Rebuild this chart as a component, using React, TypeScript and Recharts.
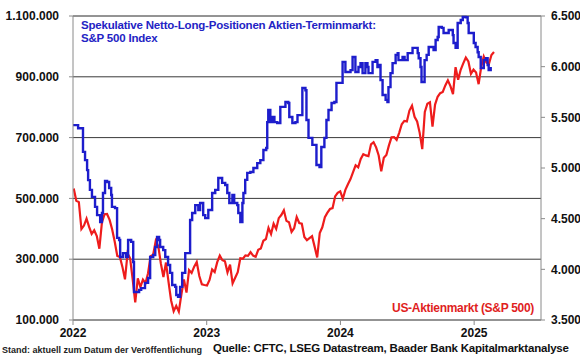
import { LineChart, Line, XAxis, YAxis, CartesianGrid, ReferenceLine } from 'recharts';

// x axis: years
const yearTicks = [2022, 2023, 2024, 2025];
const leftTicks = [100000, 300000, 500000, 700000, 900000, 1100000];
const rightTicks = [3500, 4000, 4500, 5000, 5500, 6000, 6500];

// CFTC net long positions (weeks since 3 Jan 2022, thousands of contracts)
const cotWeeks = [
  0, 2, 3.9, 4.7, 5.5, 5.9, 6.6, 7.4, 8.6, 9.4, 10.6, 11.3, 11.7, 12.5, 13.3, 14.1, 14.9, 15.2, 16.4, 17.2,
  18.0, 18.4, 19.5, 20.7, 21.5, 22.7, 23.5, 23.8, 25.8, 26.6, 28.1, 29.3, 30.1, 31.3, 32.1, 32.8, 33.6, 34.0, 35.2, 36.0,
  37.1, 37.9, 38.7, 39.9, 40.3, 41.0, 41.8, 42.6, 43.8, 45.7, 46.5, 47.7, 48.9, 49.6, 50.8, 51.6, 52.8, 54.3, 55.5, 56.7,
  58.2, 59.4, 60.2, 61.0, 62.2, 62.9, 64.1, 64.5, 65.3, 66.1, 66.5, 67.2, 68.0, 69.2, 70.4, 71.9, 73.1, 74.3, 75.4, 75.8,
  76.2, 77.0, 77.8, 78.6, 79.7, 80.9, 82.9, 84.0, 84.4, 85.6, 86.8, 87.6, 89.5, 90.7, 91.1, 91.9, 93.4, 95.0, 96.2, 96.9,
  98.1, 98.9, 99.7, 100.9, 102.0, 102.8, 105.2, 106.3, 108.3, 109.1, 110.2, 111.4, 112.2, 113.0, 114.1, 114.9, 115.3, 116.9, 118.1, 118.8,
  119.6, 120.0, 120.8, 122.0, 122.7, 123.1, 123.9, 124.7, 125.9, 126.7, 127.0, 128.6, 129.4, 130.6, 132.5, 134.5, 134.9, 135.6, 136.0, 137.2,
  138.0, 138.8, 140.7, 141.5, 142.3, 142.7, 143.9, 144.6, 146.6, 148.2, 148.5, 149.3, 150.1, 151.3, 152.1, 153.2, 154.0, 154.4, 156.4, 157.1,
  157.9, 158.3, 159.1, 160.3, 161.1, 161.8, 162.2, 163.0,
];
const cotValues = [
  741, 731, 653, 626, 593, 560, 528, 505, 472, 445, 422, 452, 518, 557, 554, 534, 511, 472, 468, 370,
  363, 307, 320, 307, 363, 357, 291, 192, 199, 205, 222, 238, 307, 314, 340, 373, 363, 340, 330, 307,
  281, 255, 215, 209, 182, 176, 209, 255, 320, 429, 452, 478, 462, 485, 445, 435, 462, 518, 528, 567,
  551, 544, 518, 485, 511, 485, 478, 452, 422, 485, 518, 561, 584, 587, 600, 616, 626, 659, 666, 751,
  791, 751, 768, 751, 748, 801, 817, 814, 768, 748, 751, 774, 863, 856, 758, 699, 676, 610, 603, 669,
  699, 758, 791, 814, 817, 880, 949, 916, 922, 965, 916, 932, 945, 912, 945, 932, 912, 949, 955, 932,
  939, 889, 840, 824, 817, 866, 912, 945, 972, 978, 955, 965, 955, 978, 995, 978, 961, 932, 883, 955,
  972, 998, 988, 1021, 1031, 1064, 1061, 1044, 1054, 1037, 1011, 995, 1077, 1087, 1097, 1096, 1077, 1044, 1011, 998,
  981, 965, 929, 955, 961, 939, 922, 932,
];

// S&P 500, weekly from 3 Jan 2022
const spxValues = [
  4797,
  4677, 4663, 4398, 4432, 4500, 4419, 4349, 4385, 4329, 4204, 4463, 4543, 4546, 4488, 4393, 4272, 4132, 4123, 4024, 3901,
  4158, 4109, 3901, 3675, 3912, 3825, 3899, 3863, 3962, 4130, 4145, 4280, 4228, 4058, 3924, 4067, 3873, 3693, 3586, 3640,
  3583, 3752, 3901, 3771, 3993, 3965, 4026, 4072, 3934, 3852, 3845, 3840,
  3895, 3999, 3973, 4071, 4136, 4090, 4079, 3970, 4046, 3862, 3917, 3971, 4109, 4105, 4138, 4133, 4169, 4136, 4124, 4192,
  4205, 4282, 4299, 4410, 4348, 4450, 4399, 4505, 4536, 4582, 4478, 4464, 4370, 4406, 4516, 4457, 4450, 4320, 4288, 4308,
  4327, 4224, 4117, 4358, 4415, 4514, 4559, 4595, 4604, 4719, 4754, 4770,
  4697, 4784, 4840, 4891, 4959, 5027, 5006, 5089, 5137, 5124, 5117, 5234, 5254, 5204, 5123, 4967, 5100, 5128, 5223, 5303,
  5305, 5278, 5347, 5432, 5465, 5460, 5567, 5615, 5505, 5459, 5347, 5186, 5554, 5634, 5648, 5408, 5626, 5703, 5738, 5751,
  5815, 5865, 5808, 5729, 5995, 5870, 5969, 6032, 6090, 6051, 5930, 5971,
  5942, 5827, 5997, 6101, 6041, 6026, 6115, 6144,
];

const weekToYear = (w: number) => 2022 + (w * 7) / 365.25;

const cotData = cotWeeks.map((w, i) => ({ t: weekToYear(w), v: cotValues[i] * 1000 }));
const spxData = spxValues.map((v, i) => ({ t: 2022 + (2 + i * 7) / 365.25, v }));

const dots = (n: number) => String(n).replace(/\B(?=(\d{3})+(?!\d))/g, '.');

const font = '"Liberation Sans", Arial, sans-serif';
const tickStyle = { fontSize: 12, fontWeight: 700, fill: '#111', fontFamily: font };
const titleStyle = {
  position: 'absolute' as const,
  left: 81,
  fontSize: 11.5,
  fontWeight: 700,
  color: '#2323c4',
  lineHeight: '12px',
  letterSpacing: -0.2,
  whiteSpace: 'nowrap' as const,
};

export default function App() {
  return (
    <div style={{ position: 'fixed', left: 0, top: 0, width: 580, height: 359, background: '#fff', fontFamily: font }}>
      <LineChart width={580} height={359} margin={{ top: 16, right: 0, left: 0, bottom: 0 }}>
        <CartesianGrid yAxisId="left" vertical={false} stroke="#3a3a3a" strokeWidth={1} />
        <XAxis
          type="number"
          dataKey="t"
          domain={[2022, 2025.5]}
          ticks={yearTicks}
          tickFormatter={(v) => String(v)}
          allowDataOverflow
          height={39}
          tickSize={5}
          tickMargin={3}
          axisLine={{ stroke: '#8a8a8a' }}
          tickLine={{ stroke: '#8a8a8a' }}
          tick={tickStyle}
        />
        <YAxis
          yAxisId="left"
          domain={[100000, 1100000]}
          ticks={leftTicks}
          tickFormatter={dots}
          width={73}
          tickSize={4}
          tickMargin={10}
          axisLine={{ stroke: '#8a8a8a' }}
          tickLine={{ stroke: '#8a8a8a' }}
          tick={tickStyle}
        />
        <YAxis
          yAxisId="right"
          orientation="right"
          domain={[3500, 6500]}
          ticks={rightTicks}
          tickFormatter={dots}
          width={39}
          tickSize={4}
          tickMargin={6}
          axisLine={{ stroke: '#8a8a8a' }}
          tickLine={{ stroke: '#8a8a8a' }}
          tick={{ ...tickStyle, textAnchor: 'start' }}
        />
        <ReferenceLine yAxisId="left" y={1100000} stroke="#8a8a8a" />
        <Line
          yAxisId="right"
          data={spxData}
          dataKey="v"
          type="linear"
          stroke="#ee1c1c"
          strokeWidth={2.2}
          dot={false}
          isAnimationActive={false}
        />
        <Line
          yAxisId="left"
          data={cotData}
          dataKey="v"
          type="stepAfter"
          stroke="#1d1dcc"
          strokeWidth={2.4}
          dot={false}
          isAnimationActive={false}
        />
      </LineChart>
      <div style={{ ...titleStyle, top: 19 }}>Spekulative Netto-Long-Positionen Aktien-Terminmarkt:</div>
      <div style={{ ...titleStyle, top: 32 }}>S&amp;P 500 Index</div>
      <div style={{ position: 'absolute', right: 46, top: 301, fontSize: 12, fontWeight: 700, color: '#e01e1e', letterSpacing: -0.3 }}>
        US-Aktienmarkt (S&amp;P 500)
      </div>
      <div style={{ position: 'absolute', left: 2, top: 345, fontSize: 9, fontWeight: 700, color: '#222' }}>
        Stand: aktuell zum Datum der Veröffentlichung
      </div>
      <div style={{ position: 'absolute', left: 213, top: 342, fontSize: 11.5, fontWeight: 700, color: '#111', letterSpacing: -0.2 }}>
        Quelle: CFTC, LSEG Datastream, Baader Bank Kapitalmarktanalyse
      </div>
    </div>
  );
}
